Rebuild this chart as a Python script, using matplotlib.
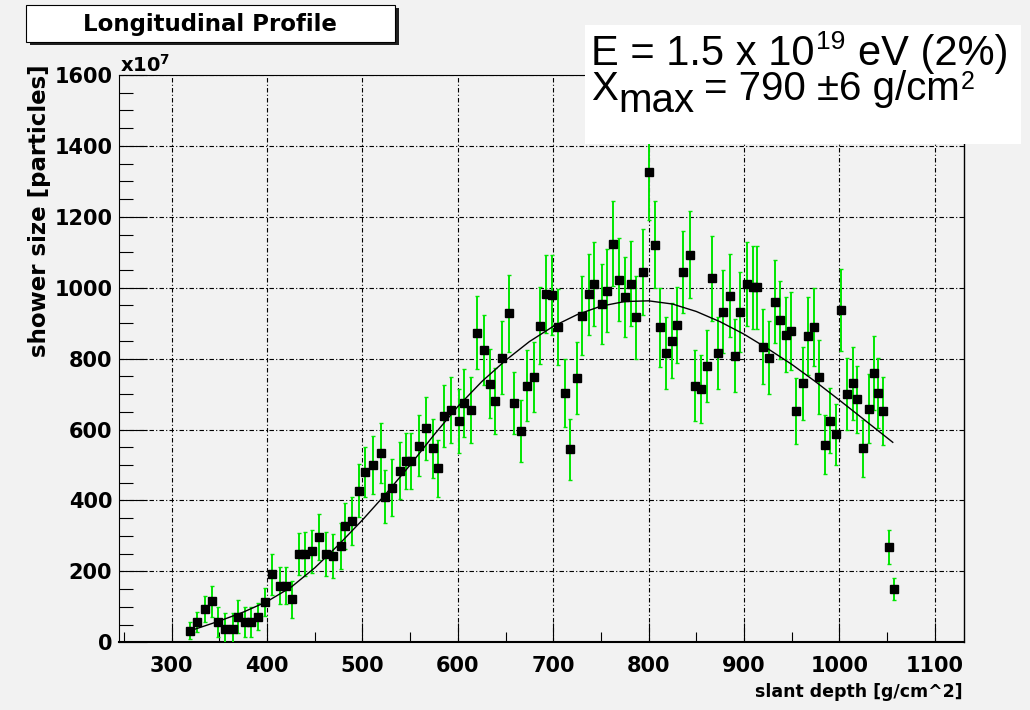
import matplotlib
matplotlib.use('Agg')
import matplotlib.pyplot as plt
from matplotlib.patches import Rectangle
from matplotlib.ticker import MultipleLocator
from matplotlib.transforms import IdentityTransform

# shower profile: slant depth [g/cm^2], size [x10^7 particles], error
depth = [319, 327, 335, 342, 349, 356, 364, 369, 377, 383, 390, 398, 405, 413, 420,
         426, 433, 440, 447, 454, 462, 469, 477, 482, 489, 496, 503, 511, 519, 524,
         531, 539, 546, 551, 559, 567, 574, 579, 586, 593, 601, 606, 614, 620, 627,
         634, 639, 646, 654, 659, 666, 672, 680, 686, 692, 699, 705, 712, 718, 725,
         730, 738, 743, 751, 756, 763, 769, 775, 782, 787, 794, 800, 807, 812, 818,
         825, 830, 836, 843, 849, 855, 861, 867, 873, 878, 885, 891, 896, 903, 909,
         914, 920, 926, 933, 938, 944, 949, 955, 962, 967, 973, 979, 985, 990, 996,
         1002, 1008, 1014, 1019, 1025, 1031, 1036, 1041, 1046, 1052, 1057]
size = [33, 58, 93, 116, 58, 37, 37, 72, 58, 58, 72, 113, 192, 160, 160,
        121, 249, 249, 256, 298, 249, 244, 271, 328, 342, 427, 481, 500, 533, 411,
        436, 484, 511, 511, 554, 603, 547, 491, 639, 655, 625, 674, 655, 873, 825,
        729, 680, 803, 928, 674, 596, 723, 749, 893, 982, 979, 889, 704, 544, 745,
        921, 981, 1011, 953, 992, 1124, 1023, 973, 1011, 916, 1045, 1326, 1121, 888, 815,
        851, 895, 1045, 1093, 723, 715, 780, 1026, 815, 932, 977, 808, 932, 1011, 1001,
        1001, 834, 803, 961, 909, 868, 879, 652, 731, 863, 888, 749, 557, 625, 587,
        937, 700, 731, 685, 547, 659, 759, 704, 652, 270, 150]
size_err = [25, 28, 37, 44, 42, 45, 45, 47, 42, 42, 38, 40, 58, 52, 52,
            52, 58, 63, 61, 65, 63, 62, 64, 66, 68, 75, 70, 82, 85, 75,
            80, 80, 80, 80, 86, 89, 83, 80, 88, 92, 90, 96, 92, 103, 99,
            97, 94, 102, 108, 88, 88, 100, 99, 108, 110, 113, 108, 96, 86, 101,
            112, 114, 118, 113, 117, 120, 118, 113, 120, 117, 121, 135, 123, 111, 102,
            106, 108, 115, 122, 100, 96, 102, 120, 101, 117, 117, 103, 113, 118, 118,
            118, 106, 102, 117, 110, 107, 110, 93, 103, 110, 110, 104, 83, 92, 86,
            115, 101, 103, 95, 80, 98, 105, 99, 95, 48, 30]

# fitted profile
fit_depth = [320, 350, 375, 400, 425, 450, 475, 500, 525, 550, 575, 600, 625, 650, 675,
             700, 725, 750, 775, 800, 825, 850, 875, 900, 925, 950, 975, 1000, 1025, 1056]
fit_size = [33, 60, 85, 115, 155, 210, 275, 345, 420, 500, 585, 665, 735, 795, 848,
            891, 924, 948, 961, 963, 954, 933, 904, 869, 828, 784, 735, 683, 630, 564]

bg = '#f2f2f2'
fig = plt.figure(figsize=(10.3, 7.1), dpi=100, facecolor=bg)
ax = fig.add_axes([0.1158, 0.0954, 0.8204, 0.799], facecolor=bg)

ax.errorbar(depth, size, yerr=size_err, fmt='none', ecolor='#00e600',
            elinewidth=1.4, capsize=1.5, capthick=1.0, zorder=3)
ax.plot(depth, size, 's', color='black', markersize=5.3, zorder=4)
ax.plot(fit_depth, fit_size, color='black', lw=1.0, zorder=5)

ax.set_xlim(245, 1131)
ax.set_ylim(0, 1600)
ax.xaxis.set_major_locator(MultipleLocator(100))
ax.xaxis.set_minor_locator(MultipleLocator(50))
ax.yaxis.set_major_locator(MultipleLocator(200))
ax.yaxis.set_minor_locator(MultipleLocator(50))
ax.set_axisbelow(True)
ax.grid(which='major', color='black', linestyle=(0, (4, 2, 1, 2)), linewidth=0.8)

ax.tick_params(axis='x', which='major', direction='in', length=14, width=0.8,
               labelsize=15, pad=10)
ax.tick_params(axis='x', which='minor', direction='in', length=7, width=0.8)
ax.tick_params(axis='y', which='major', direction='in', length=20, width=0.8,
               labelsize=15, pad=5)
ax.tick_params(axis='y', which='minor', direction='in', length=10, width=0.8)
for lab in ax.get_xticklabels() + ax.get_yticklabels():
    lab.set_fontweight('bold')

ax.spines['bottom'].set_linewidth(1.5)
ax.spines['left'].set_linewidth(0.8)
ax.spines['top'].set_linewidth(0.8)
ax.spines['right'].set_linewidth(1.0)

px = IdentityTransform()
H = 710

# axis titles and exponent
fig.text(963, H - 697, 'slant depth [g/cm^2]', transform=px, ha='right', va='baseline',
         fontsize=12.5, fontweight='bold')
fig.text(40, H - 64, 'shower size [particles]', transform=px, rotation=90,
         rotation_mode='anchor', ha='right', va='center', fontsize=16.5, fontweight='bold')
fig.text(120, H - 72, r'$\mathbf{x10^{7}}$', transform=px, ha='left', va='baseline',
         fontsize=14)

# title box with shadow
fig.add_artist(Rectangle((30, H - 45), 369, 37, transform=px, facecolor='#202020',
                         edgecolor='none', zorder=8))
fig.add_artist(Rectangle((26, H - 42), 369, 37, transform=px, facecolor='white',
                         edgecolor='black', linewidth=0.8, zorder=9))
fig.text(210, H - 24, 'Longitudinal Profile', transform=px, ha='center', va='center',
         fontsize=16.5, fontweight='bold', zorder=10)

# energy / Xmax box
fig.add_artist(Rectangle((585, H - 144), 436, 119, transform=px, facecolor='white',
                         edgecolor='none', zorder=8))

renderer = fig.canvas.get_renderer()


def put_run(x, pieces):
    for s, fs, base, gap in pieces:
        x += gap
        t = fig.text(x, H - base, s, transform=px, ha='left', va='baseline',
                     fontsize=fs, family='Liberation Sans', zorder=10)
        x += t.get_window_extent(renderer).width


put_run(591, [('E = 1.5 x 10', 30, 65, 0), ('19', 19, 49, 2), ('eV (2%)', 30, 65, 12)])
put_run(591, [('X', 29, 100, 0), ('max', 29, 112, 0), ('= 790 \u00b16 g/cm', 29, 100, 10),
              ('2', 18, 89, 1)])

fig.savefig('out.png', dpi=100, facecolor=bg)
